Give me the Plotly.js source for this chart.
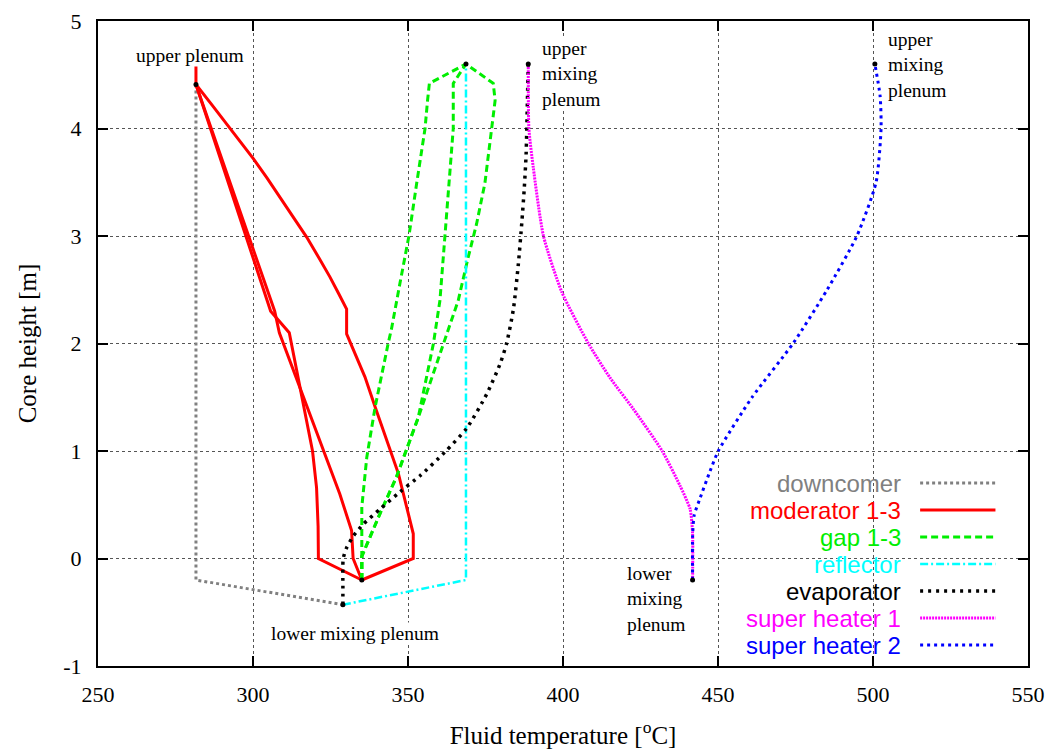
<!DOCTYPE html>
<html>
<head>
<meta charset="utf-8">
<script src="https://cdn.plot.ly/plotly-3.0.1.min.js"></script>
<style>html,body{margin:0;padding:0;background:#fff;}#chart{width:1058px;height:749px;}</style>
</head>
<body>
<div id="chart"></div>
<script>
// ---- data ----
const seriesNames = ["downcomer","moderator 1-3","gap 1-3","reflector","evaporator","super heater 1","super heater 2"];

const downcomerT = [281.6, 281.6, 329.0];
const downcomerH = [4.41, -0.2, -0.43];

// moderator channels (outer, inner A, inner B)
const modOuterT = [281.6, 281.6, 287.0, 292.6, 296.5, 300.1, 304.5, 308.7, 313.0, 317.3, 321.2, 324.8, 327.7, 330.2, 330.2, 336.1, 339.4, 344.2, 346.9, 351.7, 351.7, 335.1];
const modOuterH = [4.6, 4.41, 4.21, 4.0, 3.86, 3.72, 3.54, 3.36, 3.17, 2.99, 2.80, 2.62, 2.46, 2.32, 2.09, 1.69, 1.41, 1.0, 0.79, 0.23, 0.0, -0.2];
const modAT = [281.6, 305.7, 311.7, 315.0, 317.3, 319.2, 320.5, 321.0, 321.1, 335.1];
const modAH = [4.41, 2.30, 2.10, 1.6, 1.28, 1.0, 0.66, 0.3, 0.0, -0.2];
const modBT = [281.6, 307.0, 308.5, 315.0, 322.7, 328.0, 331.8, 332.3, 335.1];
const modBH = [4.41, 2.30, 2.10, 1.6, 1.0, 0.6, 0.26, 0.0, -0.2];

// gap channels
const gapLeftT = [335.1, 335.1, 335.1, 336.7, 339.4, 343.6, 344.7, 347.4, 350.3, 352.8, 355.5, 356.3, 356.9, 368.7];
const gapLeftH = [-0.2, 0.02, 0.48, 0.94, 1.41, 2.0, 2.14, 2.56, 3.0, 3.49, 4.0, 4.26, 4.42, 4.6];
const gapMidT = [335.1, 335.1, 341.0, 346.3, 353.3, 355.5, 358.2, 360.3, 361.9, 363.0, 364.6, 364.6, 368.7];
const gapMidH = [-0.2, 0.02, 0.42, 0.76, 1.31, 1.63, 2.0, 2.4, 3.0, 3.49, 4.0, 4.42, 4.6];
const gapRightT = [335.1, 335.1, 341.0, 346.3, 353.3, 357.1, 361.4, 366.2, 369.4, 372.1, 374.8, 377.0, 378.1, 377.5, 368.7];
const gapRightH = [-0.2, 0.02, 0.42, 0.76, 1.31, 1.63, 2.0, 2.4, 2.8, 3.11, 3.49, 4.0, 4.26, 4.42, 4.6];

const reflectorT = [329.0, 368.7, 368.7];
const reflectorH = [-0.43, -0.2, 4.6];

const evaporatorT = [329.0, 329.0, 329.1, 330.2, 332.4, 335.6, 341.0, 347.4, 353.9, 361.9, 368.9, 375.4, 379.7, 381.8, 384.0, 385.6, 386.7, 387.5, 388.1, 388.5, 388.8];
const evaporatorH = [-0.43, -0.27, 0.0, 0.1, 0.21, 0.32, 0.46, 0.62, 0.77, 0.99, 1.21, 1.53, 1.81, 2.0, 2.32, 2.74, 3.12, 3.44, 3.76, 4.24, 4.6];

const sh1T = [388.8, 389.0, 390.4, 393.7, 399.6, 408.2, 415.2, 422.7, 432.0, 437.7, 441.0, 441.8, 441.8];
const sh1H = [4.6, 4.0, 3.64, 3.0, 2.48, 2.0, 1.68, 1.39, 1.0, 0.68, 0.46, 0.23, -0.2];

const sh2T = [441.8, 441.8, 442.3, 444.2, 447.4, 450.1, 461.0, 474.2, 485.2, 494.8, 501.0, 502.6, 502.3, 500.6];
const sh2H = [-0.2, 0.2, 0.4, 0.56, 0.81, 1.0, 1.5, 2.0, 2.5, 3.0, 3.5, 4.0, 4.3, 4.6];

// plenum points
const plenumT = [281.6, 368.7, 388.8, 500.6, 335.1, 329.0, 441.8];
const plenumH = [4.41, 4.6, 4.6, 4.6, -0.2, -0.43, -0.2];

// labels
const labelTexts = ["upper plenum", "lower mixing plenum", "upper<br>mixing<br>plenum", "upper<br>mixing<br>plenum", "lower<br>mixing<br>plenum"];
const labelT = [279.7, 332.9, 392.9, 504.5, 420.3];
const labelH = [4.68, -0.70, 4.51, 4.59, -0.38];

const xTickVals = [250, 300, 350, 400, 450, 500, 550];
const xTickText = ["250", "300", "350", "400", "450", "500", "550"];
const yTickVals = [-1, 0, 1, 2, 3, 4, 5];
const yTickText = ["-1", "0", "1", "2", "3", "4", "5"];

// ---- styles ----
const colors = ["#808080", "#ff0000", "#00ee00", "#00ffff", "#000000", "#ff00ff", "#0000ff"];
const dashes = ["3px,3px", "solid", "7px,4px", "8px,3px,2px,3px", "3px,5px", "2px,1px", "3px,4px"];
const widths = [3, 3, 3, 2.5, 3.5, 3, 3];
const shapesLine = ["linear", "linear", "linear", "linear", "spline", "spline", "spline"];

function join(pairs) {
  const x = [], y = [];
  pairs.forEach((p, i) => {
    if (i > 0) { x.push(null); y.push(null); }
    x.push(...p[0]); y.push(...p[1]);
  });
  return {x, y};
}

const groups = [
  join([[downcomerT, downcomerH]]),
  join([[modOuterT, modOuterH], [modAT, modAH], [modBT, modBH]]),
  join([[gapLeftT, gapLeftH], [gapMidT, gapMidH], [gapRightT, gapRightH]]),
  join([[reflectorT, reflectorH]]),
  join([[evaporatorT, evaporatorH]]),
  join([[sh1T, sh1H]]),
  join([[sh2T, sh2H]])
];

const traces = groups.map((g, i) => ({
  type: "scatter", mode: "lines", name: seriesNames[i],
  x: g.x, y: g.y, connectgaps: false, showlegend: false,
  line: {color: colors[i], width: widths[i], dash: dashes[i], shape: shapesLine[i], smoothing: 0.6},
  hoverinfo: "skip"
}));
traces.push({
  type: "scatter", mode: "markers", x: plenumT, y: plenumH, showlegend: false,
  marker: {color: "#000", size: 5}, hoverinfo: "skip"
});

// ---- annotations & legend (custom, text on the left, sample on the right) ----
const serif = "Liberation Serif, Times New Roman, serif";
const annotations = labelTexts.map((t, i) => ({
  x: labelT[i], y: labelH[i], xref: "x", yref: "y", text: t, showarrow: false,
  xanchor: i < 2 ? "center" : "left", yanchor: "middle", align: "left",
  font: {family: serif, size: 19.5, color: "#000"}, bgcolor: "#fff", borderpad: 0
}));

const legTextX = 0.8656, legLineX0 = 0.884, legLineX1 = 0.965, legTop = 0.2837, legStep = 0.04186;
const shapes = [{
  type: "rect", xref: "x domain", yref: "y domain", x0: 0.676, x1: 0.975, y0: 0.012, y1: 0.307,
  fillcolor: "#fff", line: {width: 0}, layer: "below"
}];
seriesNames.forEach((n, i) => {
  const yy = legTop - i * legStep;
  annotations.push({
    x: legTextX, y: yy, xref: "x domain", yref: "y domain", text: n, showarrow: false,
    xanchor: "right", yanchor: "middle",
    font: {family: "Liberation Sans, Arial, sans-serif", size: 24, color: colors[i]}
  });
  shapes.push({
    type: "line", xref: "x domain", yref: "y domain", x0: legLineX0, x1: legLineX1, y0: yy, y1: yy,
    line: {color: colors[i], width: widths[i], dash: dashes[i]}, layer: "above"
  });
});

const axisCommon = {
  showline: true, linecolor: "#000", linewidth: 2, mirror: "ticks",
  ticks: "inside", ticklen: 10, tickwidth: 2, tickcolor: "#000",
  showgrid: true, gridcolor: "#555", gridwidth: 1, griddash: "dot",
  zeroline: false, tickfont: {family: serif, size: 22, color: "#000"}
};

const layout = {
  width: 1058, height: 749,
  margin: {l: 98, r: 30, t: 21, b: 83},
  paper_bgcolor: "#fff", plot_bgcolor: "#fff",
  showlegend: false,
  xaxis: Object.assign({}, axisCommon, {
    range: [250, 550], tickmode: "array", tickvals: xTickVals, ticktext: xTickText, ticklabelstandoff: 8,
    title: {text: "Fluid temperature [<sup>o</sup>C]", font: {family: serif, size: 25, color: "#000"}, standoff: 24}
  }),
  yaxis: Object.assign({}, axisCommon, {
    range: [-1, 5], tickmode: "array", tickvals: yTickVals, ticktext: yTickText, ticklabelstandoff: 10,
    title: {text: "Core height [m]", font: {family: serif, size: 25, color: "#000"}, standoff: 20}
  }),
  annotations: annotations,
  shapes: shapes
};

Plotly.newPlot("chart", traces, layout, {displayModeBar: false, staticPlot: true});
</script>
</body>
</html>
